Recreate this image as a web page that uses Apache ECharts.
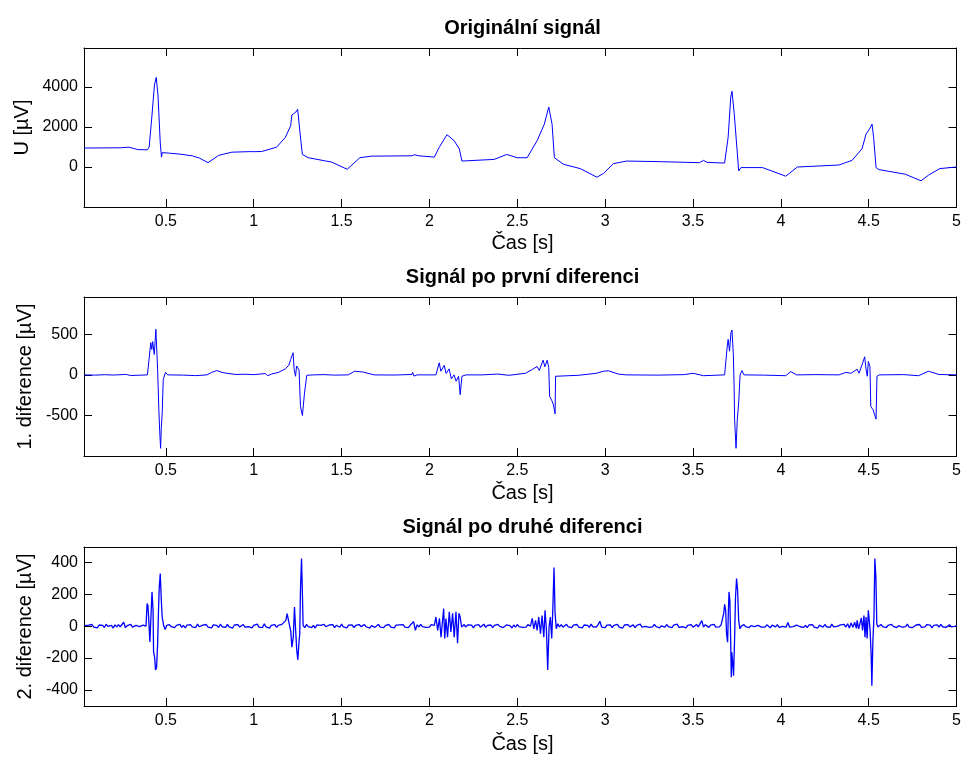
<!DOCTYPE html>
<html lang="cs">
<head>
    <meta charset="UTF-8">
    <script src="https://cdn.jsdelivr.net/npm/echarts@6.0.0/dist/echarts.min.js"></script>
    <title>Diference signálu</title>
    <style>
        html, body { margin: 0; padding: 0; background: #fff; }
    </style>
</head>
<body>
<div id="chart_main" style="width: 964px; height: 758px;"></div>
<script>

    var FONT = 'Liberation Sans, Arial, Helvetica, sans-serif';

    // texty
    var titles = ['Originální signál', 'Signál po první diferenci', 'Signál po druhé diferenci'];
    var yNames = ['U [µV]', '1. diference [µV]', '2. diference [µV]'];
    var xName = 'Čas [s]';

    // osy
    var xTicks = [0.5, 1, 1.5, 2, 2.5, 3, 3.5, 4, 4.5, 5];
    var xMin = 0.034, xMax = 5;
    var yTicks = [[0, 2000, 4000], [-500, 0, 500], [-400, -200, 0, 200, 400]];
    var yMins = [-2000, -1000, -500];
    var yMaxs = [5950, 960, 495];

    // originalni signal [t, uV]
    var signal = [[0.034,950],[0.24,960],[0.25,1000],[0.29,990],[0.30,950],[0.34,870],[0.395,860],[0.405,1000],
        [0.42,2500],[0.435,4100],[0.445,4480],[0.455,3600],[0.468,1200],[0.475,494],[0.48,720],[0.52,690],
        [0.575,650],[0.65,560],[0.69,450],[0.74,217],[0.80,580],[0.875,740],[0.98,770],[0.99,800],[1.0,765],[1.045,775],
        [1.13,990],[1.18,1480],[1.21,2060],[1.217,2600],[1.24,2750],[1.25,2885],[1.264,1650],[1.277,627],
        [1.31,465],[1.41,300],[1.443,247],[1.532,-114],[1.604,464],[1.67,543],[1.90,560],[1.915,612],
        [1.94,560],[2.028,494],[2.056,988],[2.10,1615],[2.14,1320],[2.17,909],[2.185,297],[2.368,380],
        [2.44,627],[2.50,464],[2.556,464],[2.613,1320],[2.654,2143],[2.679,3000],[2.698,2143],[2.711,464],
        [2.764,133],[2.858,-80],[2.953,-510],[2.99,-326],[3.047,168],[3.122,297],[3.30,270],[3.31,250],[3.32,265],
        [3.537,217],[3.56,331],[3.58,230],[3.68,198],[3.70,1482],[3.715,3500],[3.722,3790],[3.735,2640],
        [3.76,-198],[3.773,-30],[3.896,-30],[4.028,-460],[4.094,0],[4.33,99],[4.405,331],[4.462,909],
        [4.485,1650],[4.505,1900],[4.519,2143],[4.528,1482],[4.542,-30],[4.557,-128],[4.708,-361],
        [4.798,-692],[4.84,-410],[4.905,-79],[5.0,0]];

    // prvni diference [t, uV]
    var diff1 = [[0.034,0],[0.10,-3],[0.15,2],[0.20,-2],[0.26,4],[0.268,16],[0.275,5],[0.283,-10],[0.30,-8],
        [0.31,0],[0.395,0],[0.414,397],[0.42,314],[0.425,410],[0.434,252],[0.443,562],[0.453,66],[0.460,-430],
        [0.465,-700],[0.470,-905],[0.474,-650],[0.479,-471],[0.485,-58],[0.498,32],[0.51,0],[0.60,-3],
        [0.668,-9],[0.70,-5],[0.734,0],[0.76,30],[0.79,53],[0.82,30],[0.859,16],[0.90,5],[0.95,8],[1.00,3],
        [1.066,16],[1.08,-10],[1.10,10],[1.14,30],[1.18,74],[1.20,120],[1.21,190],[1.224,273],[1.230,66],
        [1.238,-17],[1.244,110],[1.252,115],[1.258,60],[1.266,-389],[1.277,-500],[1.289,-223],[1.302,-5],
        [1.34,0],[1.40,3],[1.46,-3],[1.538,0],[1.574,45],[1.62,36],[1.686,0],[1.80,-2],[1.90,5],[1.905,30],
        [1.912,-15],[1.93,0],[2.037,0],[2.056,149],[2.065,45],[2.084,117],[2.095,17],[2.112,74],[2.125,-50],
        [2.14,0],[2.152,-79],[2.166,-17],[2.175,-244],[2.185,-17],[2.208,0],[2.30,0],[2.387,10],[2.453,-5],
        [2.547,20],[2.585,66],[2.613,103],[2.625,55],[2.647,181],[2.657,100],[2.67,181],[2.679,90],
        [2.684,-265],[2.696,-315],[2.706,-370],[2.715,-480],[2.718,-17],[2.726,-5],[2.85,-5],[2.95,20],
        [2.99,45],[3.02,50],[3.075,10],[3.12,0],[3.30,-3],[3.45,3],[3.50,20],[3.56,-10],[3.68,0],[3.695,355],
        [3.70,438],[3.708,293],[3.716,520],[3.722,553],[3.73,231],[3.734,-141],[3.737,-554],[3.745,-905],
        [3.752,-554],[3.760,-347],[3.768,0],[3.779,53],[3.79,0],[3.90,-3],[4.028,-10],[4.056,40],[4.09,0],
        [4.20,3],[4.33,0],[4.37,30],[4.40,20],[4.434,70],[4.445,20],[4.466,149],[4.477,223],[4.485,70],
        [4.492,-17],[4.498,165],[4.507,103],[4.512,-390],[4.525,-430],[4.542,-545],[4.547,-17],[4.56,0],
        [4.70,3],[4.784,-10],[4.84,45],[4.90,5],[5.0,0]];

    // druha diference - sum mimo komplexy, vzorky po 0.01 s od 0.04 s
    var diff2Start = 0.04, diff2Step = 0.01;
    var diff2Noise = [
        3,-8,6,-4,10,-6,2,-11,7,-3,   5,-9,12,-2,-7,4,-12,8,-5,9,   -4,6,24,-10,3,-8,11,-6,-14,5,
        8,-3,-9,6,-5,2,0,0,0,0,       0,0,0,0,0,0,0,-6,9,-4,        7,-10,4,-2,11,-8,5,-12,6,-3,
        9,-5,2,-9,13,-4,-7,6,-2,10,   -6,4,-11,8,-3,5,-9,12,-4,2,   -8,11,-5,3,-12,7,-2,9,-6,4,
        10,-7,3,-4,8,-11,5,-3,12,-6,  2,-9,14,-5,7,-13,4,-2,9,-8,   5,-4,11,0,0,0,0,0,0,0,
        0,0,0,0,0,-7,10,-3,6,-9,      4,-12,8,-2,5,-6,11,-4,-8,7,   -3,9,-10,5,2,-7,12,-5,3,-11,
        6,-2,8,-9,4,-5,10,-3,-7,9,    -4,7,-12,3,6,-8,2,11,-6,4,    -9,5,-3,10,-7,2,-11,6,-4,8,
        -2,9,-6,4,-10,5,3,28,-26,8,   -5,10,-3,6,-8,2,-6,9,0,0,     0,0,0,0,0,0,0,0,0,0,
        0,0,0,0,0,0,0,-5,8,-3,        6,-11,4,-2,9,-7,3,12,-8,5,    -3,7,-10,4,-5,11,-2,6,-9,3,
        8,-4,2,-12,7,-6,10,-3,5,-8,   4,-6,9,0,0,0,0,0,0,0,         0,0,0,0,0,0,0,0,0,0,
        -4,9,-7,3,11,-5,2,-9,6,-2,    10,-6,4,-11,7,-3,5,-8,12,-4,  3,-7,9,30,-6,4,-10,6,-3,8,
        -9,5,-2,11,-6,3,-12,7,-4,9,   -5,2,8,-10,4,-3,12,-7,5,-2,   9,-8,3,-5,11,-4,6,-11,2,7,
        -6,10,-3,4,-9,6,-2,12,-8,3,   -4,8,-11,5,-2,9,-7,3,10,-5,   4,34,-6,9,-3,-8,6,-4,11,-7,
        3,-5,8,0,0,0,0,0,0,0,         0,0,0,0,-8,9,-4,6,-10,3,      7,-3,-9,5,12,-6,2,-7,8,-2,
        -11,6,3,-5,9,-8,4,-2,10,-6,   22,-7,5,-3,-9,6,11,-4,2,-8,   5,-10,7,-3,9,-6,2,-12,6,4,
        -7,10,-4,3,-8,12,-5,6,-2,-9,  8,-4,11,-6,15,-12,20,-8,24,-14, 0,0,0,0,0,0,0,0,0,0,
        0,0,-6,10,-3,7,-9,4,-5,11,    -2,6,-10,3,8,-7,4,-3,12,-6,   5,-9,2,7,-4,10,-8,3,-5,9,
        -3,6,-11,4,-2,8,-7,11,-4,5,   -8,3,9,-5,6,-2,4
    ];

    // druha diference - komplexy [t, uV]
    var diff2Bursts = [
        [[0.387,0],[0.393,141],[0.398,128],[0.404,10],[0.409,-100],[0.415,57],[0.421,214],[0.427,99],
         [0.430,-163],[0.436,-195],[0.441,-274],[0.447,-260],[0.453,-110],[0.458,99],[0.462,235],
         [0.468,329],[0.474,163],[0.479,57],[0.487,5],[0.496,-21],[0.505,5]],
        [[1.17,5],[1.183,36],[1.19,78],[1.198,36],[1.206,46],[1.211,-35],[1.217,-132],[1.225,-70],
         [1.232,120],[1.238,-15],[1.245,-153],[1.251,-211],[1.257,-110],[1.262,-46],[1.266,225],
         [1.272,423],[1.277,204],[1.281,5],[1.29,-10]],
        [[2.028,4],[2.037,57],[2.047,-27],[2.057,48],[2.066,-69],[2.073,15],[2.081,109],[2.087,-78],
         [2.094,48],[2.103,-69],[2.113,90],[2.122,-36],[2.132,80],[2.141,-69],[2.151,90],[2.160,-107],
         [2.168,80],[2.175,57],[2.183,-5],[2.198,10],[2.205,-5]],
        [[2.575,0],[2.585,48],[2.594,-17],[2.604,36],[2.613,-27],[2.622,57],[2.632,-48],[2.641,66],
         [2.651,-69],[2.658,99],[2.666,-27],[2.673,-274],[2.681,-5],[2.688,57],[2.696,-78],[2.702,99],
         [2.709,367],[2.715,80],[2.722,-17],[2.73,15],[2.74,-5]],
        [[3.669,0],[3.675,80],[3.680,136],[3.686,99],[3.691,-48],[3.697,-101],[3.701,80],[3.705,214],
         [3.710,160],[3.714,-69],[3.718,-320],[3.721,-164],[3.725,-215],[3.731,-310],[3.737,-69],
         [3.742,182],[3.748,298],[3.754,222],[3.760,36],[3.767,-17],[3.775,0]],
        [[4.434,36],[4.443,-17],[4.458,52],[4.465,-27],[4.473,66],[4.479,-69],[4.485,57],[4.491,-78],
         [4.498,99],[4.503,110],[4.508,-27],[4.514,-180],[4.518,-373],[4.524,-90],[4.530,57],[4.535,423],
         [4.541,305],[4.546,15],[4.552,-5],[4.56,4]]
    ];

    // slozeni druhe diference: sum mimo komplexy + komplexy
    function buildDiff2() {
        var out = [];
        for (var i = 0; i < diff2Noise.length; i++) {
            var t = Math.round((diff2Start + i * diff2Step) * 1000) / 1000;
            var inside = false;
            for (var b in diff2Bursts) {
                var burst = diff2Bursts[b];
                if (t >= burst[0][0] && t <= burst[burst.length - 1][0]) {
                    inside = true;
                }
            }
            if (!inside) {
                out.push([t, diff2Noise[i]]);
            }
        }
        for (var b in diff2Bursts) {
            out = out.concat(diff2Bursts[b]);
        }
        out.sort(function (a, b) { return a[0] - b[0]; });
        return out;
    }

    var seriesData = [signal, diff1, buildDiff2()];
    var lineWidths = [1, 1, 1.3];

    // rozlozeni
    var gridTops = [48, 297, 547];
    var titleY = [28, 277, 527];
    var xNameY = [243, 493, 744];
    var yNameX = [22, 25, 25];

    var Chart_Main = echarts.init(document.getElementById('chart_main'));

    function plainNumber(v) {
        return String(v);
    }

    var grids = [], xAxes = [], yAxes = [], series = [], texts = [];

    for (var i = 0; i < 3; i++) {
        grids.push({left: 84, width: 877, top: gridTops[i], height: 159});

        // spodni osa x s popisky
        xAxes.push({
            type: 'value', gridIndex: i, min: xMin, max: xMax,
            axisLine: {onZero: false, lineStyle: {color: '#000'}},
            axisTick: {show: true, inside: true, length: 8, customValues: xTicks.slice(), lineStyle: {color: '#000', width: 1}},
            axisLabel: {customValues: xTicks.slice(), fontFamily: FONT, fontSize: 16, color: '#000', margin: 7},
            splitLine: {show: false}
        });
        // horni osa x - jen ticky
        xAxes.push({
            type: 'value', gridIndex: i, min: xMin, max: xMax, position: 'top',
            axisLine: {onZero: false, lineStyle: {color: '#000'}},
            axisTick: {show: true, inside: true, length: 8, customValues: xTicks.slice(), lineStyle: {color: '#000', width: 1}},
            axisLabel: {show: false},
            splitLine: {show: false}
        });
        // leva osa y
        yAxes.push({
            type: 'value', gridIndex: i, min: yMins[i], max: yMaxs[i],
            axisLine: {show: true, onZero: false, lineStyle: {color: '#000'}},
            axisTick: {show: true, inside: true, length: 8, customValues: yTicks[i].slice(), lineStyle: {color: '#000', width: 1}},
            axisLabel: {customValues: yTicks[i].slice(), formatter: plainNumber, fontFamily: FONT, fontSize: 16, color: '#000', margin: 6},
            splitLine: {show: false}
        });
        // prava osa y
        yAxes.push({
            type: 'value', gridIndex: i, min: yMins[i], max: yMaxs[i], position: 'right',
            axisLine: {show: true, onZero: false, lineStyle: {color: '#000'}},
            axisTick: {show: true, inside: true, length: 8, customValues: yTicks[i].slice(), lineStyle: {color: '#000', width: 1}},
            axisLabel: {show: false},
            splitLine: {show: false}
        });

        series.push({
            type: 'line',
            xAxisIndex: 2 * i,
            yAxisIndex: 2 * i,
            data: seriesData[i],
            showSymbol: false,
            lineStyle: {color: '#0000ff', width: lineWidths[i]}
        });

        // titulek, popis osy x a osy y
        texts.push({
            type: 'text', x: 522.5, y: titleY[i], silent: true,
            style: {text: titles[i], fill: '#000', font: 'bold 20px ' + FONT, align: 'center', verticalAlign: 'middle'}
        });
        texts.push({
            type: 'text', x: 522.5, y: xNameY[i], silent: true,
            style: {text: xName, fill: '#000', font: '20px ' + FONT, align: 'center', verticalAlign: 'middle'}
        });
        texts.push({
            type: 'text', x: yNameX[i], y: gridTops[i] + 79.5, rotation: Math.PI / 2, silent: true,
            style: {text: yNames[i], fill: '#000', font: '20px ' + FONT, align: 'center', verticalAlign: 'middle'}
        });
    }

    var option = {
        backgroundColor: '#fff',
        animation: false,
        grid: grids,
        xAxis: xAxes,
        yAxis: yAxes,
        series: series,
        graphic: texts
    };

    Chart_Main.setOption(option);

</script>
</body>
</html>
